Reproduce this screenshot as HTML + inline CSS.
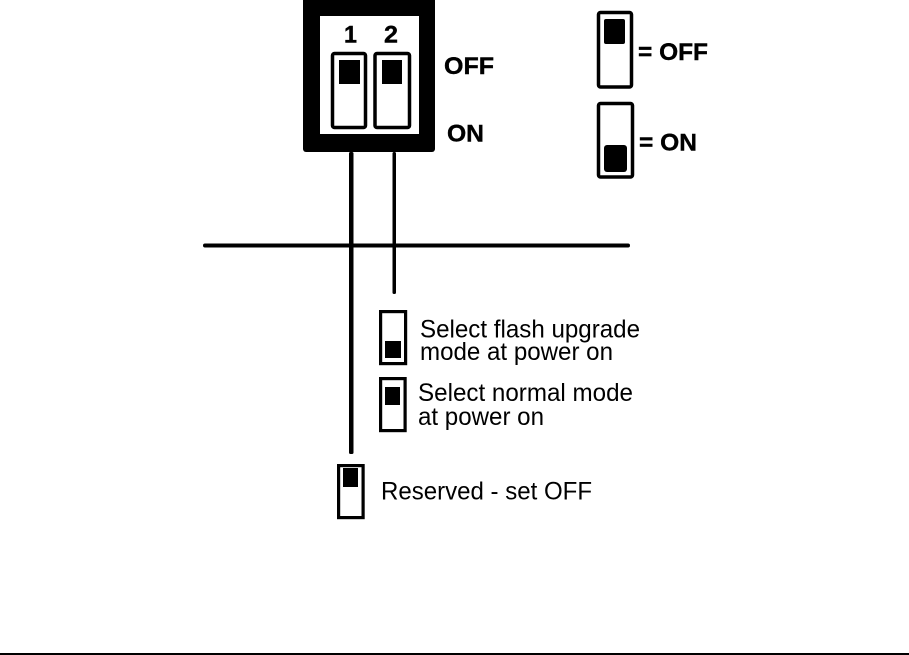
<!DOCTYPE html>
<html><head><meta charset="utf-8"><style>html,body{margin:0;padding:0;background:#fff}svg{display:block}text{font-family:"Liberation Sans",sans-serif;fill:#000}.b{font-weight:bold;font-size:24.500px;stroke:#000;stroke-width:.4px}.r{font-size:25px}</style></head><body>
<svg width="909" height="655" viewBox="0 0 909 655" xmlns="http://www.w3.org/2000/svg">
<rect x="303" y="-5" width="132" height="157" rx="3" fill="#000"/>
<rect x="320" y="16" width="99" height="118" fill="#fff"/>
<g fill="#fff" stroke="#000" stroke-width="3.5">
<rect x="332.500" y="53.500" width="33" height="74" rx="2"/>
<rect x="375" y="53.500" width="34.500" height="74" rx="2"/>
<rect x="598.500" y="12.500" width="33" height="74.500" rx="2"/>
<rect x="598.500" y="103.500" width="34" height="73.500" rx="2"/>
</g>
<g fill="#fff" stroke="#000" stroke-width="3.200">
<rect x="380.600" y="311.600" width="25" height="52"/>
<rect x="380.600" y="378.600" width="24.500" height="52"/>
<rect x="338.600" y="465.600" width="24.500" height="52"/>
</g>
<g fill="#000">
<rect x="339" y="60" width="21" height="24"/>
<rect x="382" y="60" width="20" height="24"/>
<rect x="604" y="19" width="21" height="25" rx="2"/>
<rect x="604" y="145" width="23" height="27" rx="3"/>
<rect x="385" y="341" width="16" height="17"/>
<rect x="385" y="387" width="15" height="18"/>
<rect x="343" y="468" width="15" height="19"/>
<rect x="349" y="152" width="4.500" height="302" rx="1.500"/>
<rect x="392.500" y="152" width="3.500" height="142" rx="1.500"/>
<rect x="203" y="243.500" width="427" height="4" rx="2"/>
<rect x="0" y="653" width="909" height="2"/>
</g>
<text class="b" x="344" y="42.500" textLength="13" lengthAdjust="spacingAndGlyphs">1</text>
<text class="b" x="384" y="42.500" textLength="14" lengthAdjust="spacingAndGlyphs">2</text>
<text class="b" x="444" y="74" textLength="50" lengthAdjust="spacingAndGlyphs">OFF</text>
<text class="b" x="447" y="141.500" textLength="37" lengthAdjust="spacingAndGlyphs">ON</text>
<text class="b" x="638" y="60" textLength="70" lengthAdjust="spacingAndGlyphs">= OFF</text>
<text class="b" x="639" y="150.500" textLength="58" lengthAdjust="spacingAndGlyphs">= ON</text>
<text class="r" x="420" y="337.500" textLength="220" lengthAdjust="spacingAndGlyphs">Select flash upgrade</text>
<text class="r" x="420" y="360" textLength="193" lengthAdjust="spacingAndGlyphs">mode at power on</text>
<text class="r" x="418" y="401" textLength="215" lengthAdjust="spacingAndGlyphs">Select normal mode</text>
<text class="r" x="418" y="425" textLength="126" lengthAdjust="spacingAndGlyphs">at power on</text>
<text class="r" x="381" y="499.500" textLength="211" lengthAdjust="spacingAndGlyphs">Reserved - set OFF</text>
</svg>
</body></html>
